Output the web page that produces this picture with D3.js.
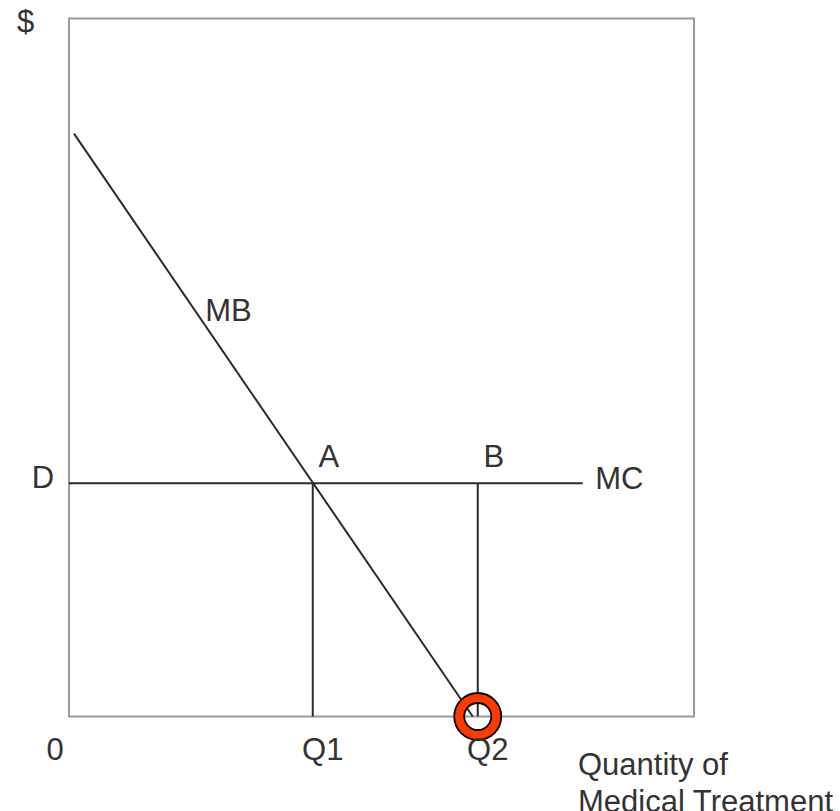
<!DOCTYPE html>
<html><head><meta charset="utf-8">
<script src="https://cdn.jsdelivr.net/npm/d3@7/dist/d3.min.js"></script>
<style>html,body{margin:0;padding:0;background:#fff;}svg{display:block;}</style>
</head><body>
<script>
// Data (arbitrary units)
const mbLine = [[0.8, 83.5], [64.6, 0]];
const mcLine = [[0, 33.4], [82.2, 33.4]];
const Q1 = 39.0, Q2 = 65.4, D = 33.4;
const verticals = [[Q1, D], [Q2, D]];
const xTicks = [{v: 0, label: "0"}, {v: Q1, label: "Q1"}, {v: Q2, label: "Q2"}];
const yTicks = [{v: D, label: "D"}];
const pointLabels = [{x: Q1, y: D, label: "A"}, {x: Q2, y: D, label: "B"}];
const curveLabels = [{x: 21.8, y: 57.5, label: "MB"}, {x: 84.2, y: 33.4, label: "MC"}];
const highlight = [{x: Q2, y: 0}];

const W = 840, H = 811;
const x = d3.scaleLinear().domain([0, 100]).range([69, 694]);
const y = d3.scaleLinear().domain([0, 100]).range([716.5, 18.5]);

const svg = d3.select("body").append("svg").attr("width", W).attr("height", H);
const font = "'Liberation Sans', Arial, sans-serif";

// frame
svg.append("rect").attr("x", x(0)).attr("y", y(100))
  .attr("width", x(100) - x(0)).attr("height", y(0) - y(100))
  .attr("fill", "none").attr("stroke", "#9a9a9a").attr("stroke-width", 2);

const line = d3.line().x(d => x(d[0])).y(d => y(d[1]));
const ink = "#2a2a2a";

svg.append("path").attr("d", line(mcLine)).attr("stroke", ink).attr("stroke-width", 2).attr("fill", "none");
svg.selectAll(".vl").data(verticals).enter().append("path")
  .attr("d", d => line([[d[0], 0], [d[0], d[1]]]))
  .attr("stroke", ink).attr("stroke-width", 2).attr("fill", "none");
svg.append("path").attr("d", line(mbLine)).attr("stroke", ink).attr("stroke-width", 2).attr("fill", "none");

// highlight ring
const hg = svg.selectAll(".hl").data(highlight).enter().append("g")
  .attr("transform", d => `translate(${x(d.x)},${y(d.y)})`);
hg.append("circle").attr("r", 18.5).attr("fill", "none").attr("stroke", "#ff3a00").attr("stroke-width", 10);
hg.append("circle").attr("r", 23.5).attr("fill", "none").attr("stroke", "#000").attr("stroke-width", 1.8);
hg.append("circle").attr("r", 13.5).attr("fill", "none").attr("stroke", "#000").attr("stroke-width", 1.8);

const txt = (sel) => sel.attr("font-family", font).attr("font-size", 31).attr("fill", "#333");

// x labels
svg.selectAll(".xt").data(xTicks).enter().append("text").call(txt)
  .attr("x", d => d.v === 0 ? x(0) - 14 : x(d.v) + 10)
  .attr("y", 760).attr("text-anchor", "middle").text(d => d.label);
// y labels
svg.selectAll(".yt").data(yTicks).enter().append("text").call(txt)
  .attr("x", 43).attr("y", d => y(d.v) + 5).attr("text-anchor", "middle").text(d => d.label);
// point labels
svg.selectAll(".pl").data(pointLabels).enter().append("text").call(txt)
  .attr("x", d => x(d.x) + 16).attr("y", d => y(d.y) - 16).attr("text-anchor", "middle").text(d => d.label);
// curve labels
svg.selectAll(".cl").data(curveLabels).enter().append("text").call(txt)
  .attr("x", d => x(d.x)).attr("y", d => y(d.y) + 6).text(d => d.label);

// axis titles
svg.append("text").call(txt).attr("x", 17).attr("y", 32).text("$");
const xt = svg.append("text").call(txt).attr("x", 578).attr("y", 775);
xt.append("tspan").attr("x", 578).text("Quantity of");
xt.append("tspan").attr("x", 578).attr("dy", 37).text("Medical Treatment");
</script>
</body></html>
